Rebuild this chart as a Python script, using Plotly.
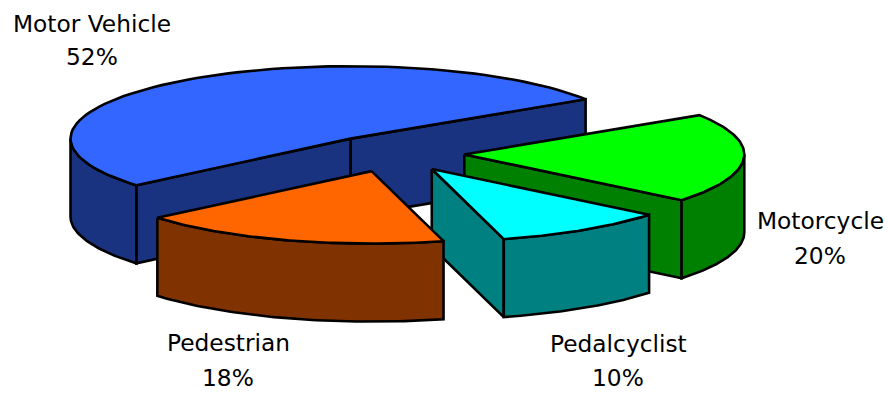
import numpy as np
import plotly.graph_objects as go

# Slice data, in drawing order (back to front)
categories = ["Motor Vehicle", "Motorcycle", "Pedalcyclist", "Pedestrian"]
values = [52, 20, 10, 18]
top_colors = ["#3366FF", "#00FF00", "#00FFFF", "#FF6600"]
side_colors = ["#1A3380", "#008000", "#008080", "#803300"]

# Slices run counter-clockwise from the start angle, in this order
pie_order = ["Motor Vehicle", "Pedestrian", "Pedalcyclist", "Motorcycle"]

# Pixel-based projection of the tilted pie
WIDTH, HEIGHT = 888, 393
CENTER_X, CENTER_Y = 393.0, 153.5
RADIUS_X, RADIUS_Y = 280.0, 72.5
DEPTH = 78.0
EXPLODE = 0.255
START_ANGLE = 32.9
OUTLINE = 2.6

# Label anchors: x of the text centre, y of each of the two lines
label_pos = {
    "Motor Vehicle": (92, 23, 56),
    "Motorcycle": (820, 220, 255),
    "Pedalcyclist": (618, 343, 377),
    "Pedestrian": (228, 342, 377),
}


def project(cx, cy, deg, radius=1.0):
    t = np.radians(deg)
    return cx + RADIUS_X * radius * np.cos(t), cy - RADIUS_Y * radius * np.sin(t)


def arc(cx, cy, a0, a1, n=80):
    angles = np.linspace(a0, a1, n)
    return project(cx, cy, angles)


def polygon(fig, xs, ys, fill):
    fig.add_trace(go.Scatter(
        x=np.append(xs, xs[0]), y=np.append(ys, ys[0]),
        mode="lines", fill="toself", fillcolor=fill,
        line=dict(color="black", width=OUTLINE),
        hoverinfo="skip", showlegend=False,
    ))


def wall(fig, apex, rim, fill):
    xs = np.array([apex[0], rim[0], rim[0], apex[0]])
    ys = np.array([apex[1], rim[1], rim[1] + DEPTH, apex[1] + DEPTH])
    polygon(fig, xs, ys, fill)


# Angular span of every slice
total = sum(values)
spans = {}
angle = START_ANGLE
for name in pie_order:
    sweep = 360.0 * values[categories.index(name)] / total
    spans[name] = (angle, angle + sweep)
    angle += sweep

fig = go.Figure()

for name, val, top, side in zip(categories, values, top_colors, side_colors):
    a0, a1 = spans[name]
    mid = (a0 + a1) / 2
    cx, cy = project(CENTER_X, CENTER_Y, mid, EXPLODE)
    apex = (cx, cy)

    # Cut faces: only those turned towards the viewer are drawn
    if np.sin(np.radians(a0 - 90)) < 0:
        wall(fig, apex, project(cx, cy, a0), side)
    if np.sin(np.radians(a1 + 90)) < 0:
        wall(fig, apex, project(cx, cy, a1), side)

    # Outer rim: the front half of the ellipse only
    for k in (0, 1):
        lo = max(a0, 180 + 360 * k)
        hi = min(a1, 360 + 360 * k)
        if lo < hi:
            rx, ry = arc(cx, cy, lo, hi)
            polygon(fig, np.concatenate([rx, rx[::-1]]),
                    np.concatenate([ry, ry[::-1] + DEPTH]), side)

    # Top face
    tx, ty = arc(cx, cy, a0, a1)
    polygon(fig, np.concatenate([[cx], tx]), np.concatenate([[cy], ty]), top)

# Two-line labels: category name and share
for name, val in zip(categories, values):
    lx, y1, y2 = label_pos[name]
    for text, ly in ((name, y1), (f"{val}%", y2)):
        fig.add_annotation(
            x=lx, y=ly, text=text, showarrow=False,
            xanchor="center", yanchor="middle",
            font=dict(family="DejaVu Sans", size=23.3, color="black"),
        )

fig.update_layout(
    width=WIDTH, height=HEIGHT,
    margin=dict(l=0, r=0, t=0, b=0),
    paper_bgcolor="white", plot_bgcolor="white",
    showlegend=False,
    xaxis=dict(range=[0, WIDTH], visible=False, fixedrange=True),
    yaxis=dict(range=[HEIGHT, 0], visible=False, fixedrange=True),
)

fig.write_html("out.html", config=dict(displayModeBar=False))
